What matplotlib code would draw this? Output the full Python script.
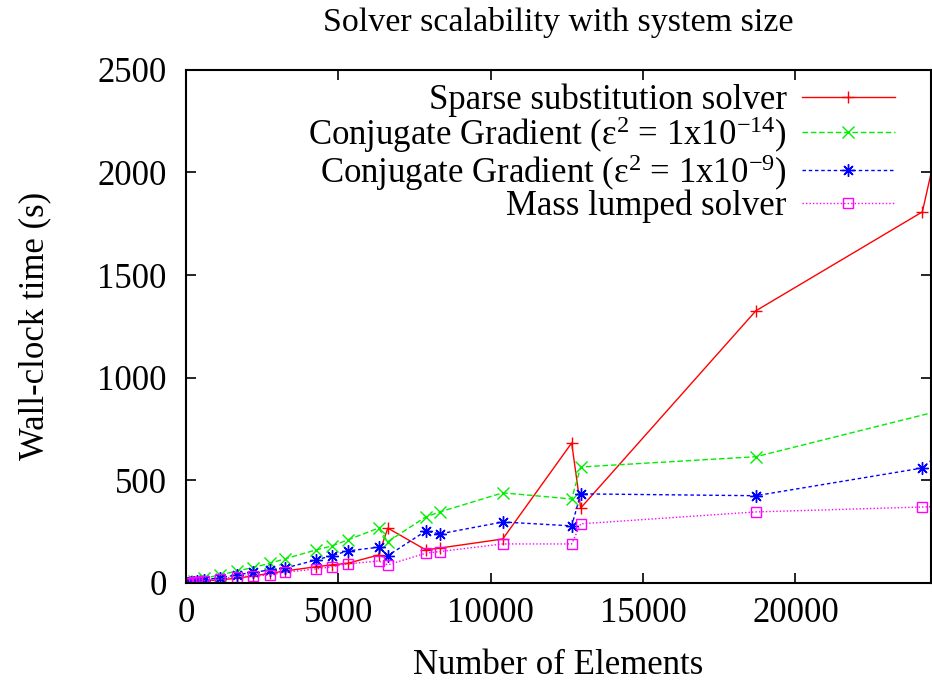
import matplotlib
matplotlib.use('Agg')
import matplotlib.pyplot as plt

plt.rcParams['font.family'] = ['Liberation Serif', 'DejaVu Serif']
plt.rcParams['mathtext.fontset'] = 'custom'
plt.rcParams['mathtext.rm'] = 'Liberation Serif'
plt.rcParams['mathtext.it'] = 'Liberation Serif:italic'
plt.rcParams['font.size'] = 25

# number of elements (shared by all runs)
elements = [20, 60, 150, 260, 360, 580, 1125, 1672, 2197, 2764, 3236, 4272, 4787,
            5311, 6318, 6623, 7869, 8328, 10393, 12656, 12951, 18700, 24164, 26000]

# wall-clock times (s)
sparse = [1, 2, 3, 4, 6, 10, 15, 23, 34, 47, 58, 79, 88,
          96, 136, 267, 161, 170, 214, 682, 365, 1326, 1808, 3020]
cg14_x = [20, 60, 150, 260, 360, 580, 1125, 1672, 2197, 2764, 3236, 4272, 4787,
          5311, 6318, 6623, 7869, 8328, 10393, 12656, 12951, 18700, 26000]
cg14 = [2, 3, 5, 7, 10, 23, 39, 58, 75, 96, 117, 161, 180,
        210, 267, 201, 322, 346, 439, 409, 565, 615, 886]
cg9 = [1, 2, 4, 5, 8, 15, 26, 39, 52, 63, 72, 112, 133,
       156, 174, 133, 253, 239, 297, 278, 434, 425, 560, 802]
lumped = [1, 1, 2, 3, 4, 10, 19, 31, 34, 39, 52, 68, 79,
          93, 107, 88, 145, 153, 190, 190, 288, 346, 370, 380]

labels = ['Sparse substitution solver',
          'Conjugate Gradient (ε$^{2}$ = 1x10$^{-14}$)',
          'Conjugate Gradient (ε$^{2}$ = 1x10$^{-9}$)',
          'Mass lumped solver']

fig = plt.figure(figsize=(9.32, 6.85), dpi=100)
ax = fig.add_axes([0.1996, 0.149, 0.7994, 0.749])

ax.plot(elements, sparse, color='#ff0000', lw=1.0, ls='-', marker='+',
        ms=9, mew=1.0, label=labels[0])
ax.plot(cg14_x, cg14, color='#00ee00', lw=1.0, ls=(0, (4, 2)), marker='x',
        ms=8, mew=1.0, label=labels[1])
ax.plot(elements, cg9, color='#0000ff', lw=1.0, ls=(0, (2.5, 2)), marker=(8, 2, 0),
        ms=9, mew=1.0, label=labels[2])
ax.plot(elements, lumped, color='#ff00ff', lw=1.0, ls=(0, (1, 1.5)), marker='s',
        ms=7, mew=1.0, mfc='none', label=labels[3])

ax.set_xlim(0, 24450)
ax.set_ylim(0, 2500)
ax.set_xticks([0, 5000, 10000, 15000, 20000])
ax.set_yticks([0, 500, 1000, 1500, 2000, 2500])
ax.tick_params(direction='in', length=7, width=1.2, top=True, right=True)
ax.tick_params(axis='x', pad=10)
ax.tick_params(axis='y', pad=14)
for s in ax.spines.values():
    s.set_linewidth(1.5)

ax.set_title('Solver scalability with system size', fontsize=24.5, pad=28)
ax.set_xlabel('Number of Elements', labelpad=14)
ax.set_ylabel('Wall-clock time (s)', labelpad=33)

ax.legend(loc='upper right', bbox_to_anchor=(0.952, 0.974), frameon=False,
          markerfirst=False, handlelength=2.7, handletextpad=0.43,
          borderpad=0, borderaxespad=0, labelspacing=-0.08)

fig.savefig('out.png', dpi=100)
